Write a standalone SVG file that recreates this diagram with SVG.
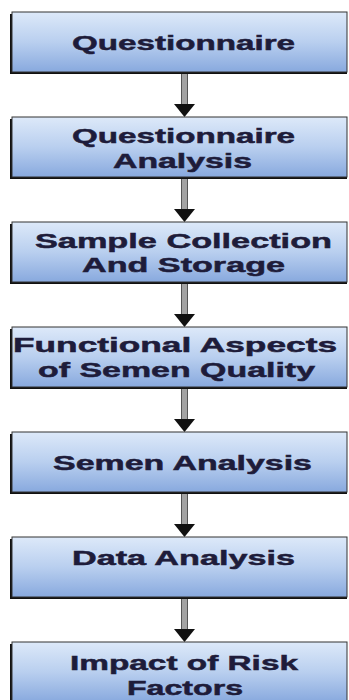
<svg xmlns="http://www.w3.org/2000/svg" xmlns:xlink="http://www.w3.org/1999/xlink" width="349" height="700" viewBox="0 0 349 700">
<style>
.shadow{fill:#111;}
.box{fill:url(#g);stroke:#333;stroke-width:1;}
.t{font-family:"Liberation Sans",Arial,sans-serif;font-weight:bold;font-size:21px;fill:#1e1c3a;stroke:#1e1c3a;stroke-width:0.5;}
.shaft{fill:#a3a3a3;stroke:#555;stroke-width:1;}
.head{fill:#111;}
</style>
<defs>
<linearGradient id="g" x1="0" y1="0" x2="0" y2="1">
<stop offset="0" stop-color="#dde9f9"/>
<stop offset="0.5" stop-color="#b9cfef"/>
<stop offset="1" stop-color="#88a9de"/>
</linearGradient>
<g id="arr">
<rect class="shaft" x="181.5" y="0" width="6" height="34"/>
<polygon class="head" points="174,32 195,32 184.5,45"/>
</g>
</defs>
<g id="connectors">
<use xlink:href="#arr" y="72"/>
<use xlink:href="#arr" y="177"/>
<use xlink:href="#arr" y="282"/>
<use xlink:href="#arr" y="387"/>
<use xlink:href="#arr" y="492"/>
<use xlink:href="#arr" y="597"/>
</g>
<g id="n1">
<rect class="shadow" x="10" y="14" width="337" height="60"/>
<rect class="box" x="12" y="12" width="335" height="60"/>
<text class="t" x="72" y="50" textLength="223" lengthAdjust="spacingAndGlyphs">Questionnaire</text>
</g>
<g id="n2">
<rect class="shadow" x="10" y="119" width="337" height="60"/>
<rect class="box" x="12" y="117" width="335" height="60"/>
<text class="t" x="72" y="143" textLength="223" lengthAdjust="spacingAndGlyphs">Questionnaire</text>
<text class="t" x="113" y="168" textLength="139" lengthAdjust="spacingAndGlyphs">Analysis</text>
</g>
<g id="n3">
<rect class="shadow" x="10" y="224" width="337" height="60"/>
<rect class="box" x="12" y="222" width="335" height="60"/>
<text class="t" x="35" y="248" textLength="297" lengthAdjust="spacingAndGlyphs">Sample Collection</text>
<text class="t" x="82" y="272" textLength="203" lengthAdjust="spacingAndGlyphs">And Storage</text>
</g>
<g id="n4">
<rect class="shadow" x="10" y="329" width="337" height="60"/>
<rect class="box" x="12" y="327" width="335" height="60"/>
<text class="t" x="13" y="352" textLength="324" lengthAdjust="spacingAndGlyphs">Functional Aspects</text>
<text class="t" x="38" y="377" textLength="277" lengthAdjust="spacingAndGlyphs">of Semen Quality</text>
</g>
<g id="n5">
<rect class="shadow" x="10" y="434" width="337" height="60"/>
<rect class="box" x="12" y="432" width="335" height="60"/>
<text class="t" x="53" y="470" textLength="259" lengthAdjust="spacingAndGlyphs">Semen Analysis</text>
</g>
<g id="n6">
<rect class="shadow" x="10" y="539" width="337" height="60"/>
<rect class="box" x="12" y="537" width="335" height="60"/>
<text class="t" x="72" y="565" textLength="223" lengthAdjust="spacingAndGlyphs">Data Analysis</text>
</g>
<g id="n7">
<rect class="shadow" x="10" y="644" width="337" height="60"/>
<rect class="box" x="12" y="642" width="335" height="60"/>
<text class="t" x="70" y="670" textLength="228" lengthAdjust="spacingAndGlyphs">Impact of Risk</text>
<text class="t" x="127" y="695" textLength="116" lengthAdjust="spacingAndGlyphs">Factors</text>
</g>
</svg>
